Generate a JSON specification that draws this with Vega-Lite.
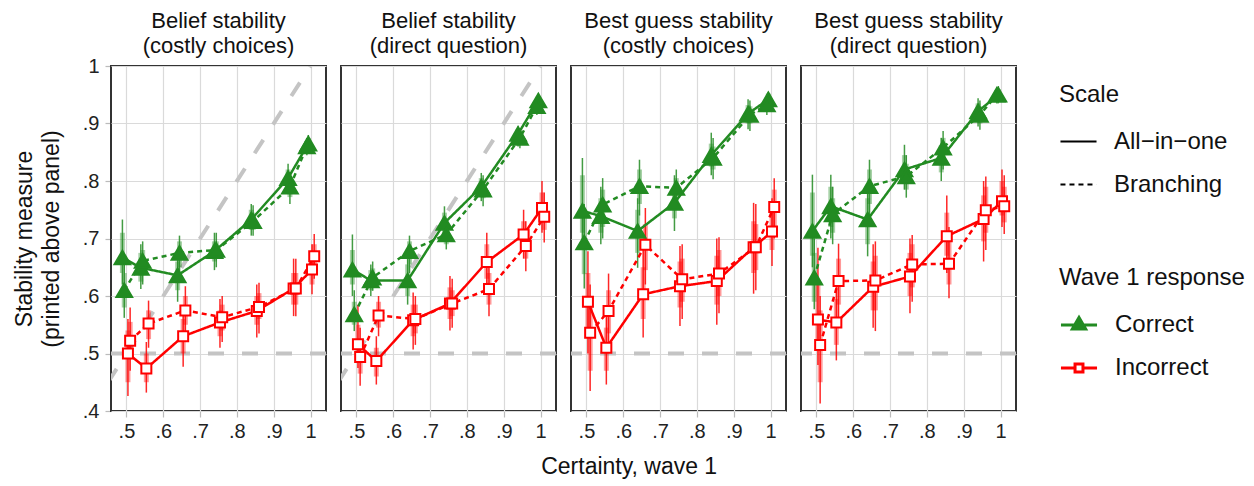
{
  "$schema": "https://vega.github.io/schema/vega-lite/v6.json",
  "padding": {"left": 13, "top": 10, "right": 5, "bottom": 5},
  "background": "white",
  "bounds": "flush",
  "title": {"text": "Certainty, wave 1", "orient": "bottom", "anchor": "middle", "fontSize": 23, "fontWeight": "normal", "color": "#111111", "offset": 15, "font": "Liberation Sans"},
  "data": {"values": [
    {"k":"h","p":"Belief stability|(costly choices)","y":0.5},
    {"k":"h","p":"Belief stability|(direct question)","y":0.5},
    {"k":"h","p":"Best guess stability|(costly choices)","y":0.5},
    {"k":"h","p":"Best guess stability|(direct question)","y":0.5},
    {"k":"d","p":"Belief stability|(costly choices)","c":0.4,"y":0.4},
    {"k":"d","p":"Belief stability|(costly choices)","c":1.0,"y":1.0},
    {"k":"d","p":"Belief stability|(direct question)","c":0.4,"y":0.4},
    {"k":"d","p":"Belief stability|(direct question)","c":1.0,"y":1.0},

    {"p":"Belief stability|(costly choices)","r":"Correct","s":"All−in−one","c":0.489,"y":0.667,"lo":0.62,"hi":0.733,"l2":0.64,"h2":0.71},
    {"p":"Belief stability|(costly choices)","r":"Correct","s":"All−in−one","c":0.539,"y":0.649,"lo":0.612,"hi":0.69,"l2":0.625,"h2":0.675},
    {"p":"Belief stability|(costly choices)","r":"Correct","s":"All−in−one","c":0.639,"y":0.636,"lo":0.59,"hi":0.68,"l2":0.61,"h2":0.66},
    {"p":"Belief stability|(costly choices)","r":"Correct","s":"All−in−one","c":0.739,"y":0.678,"lo":0.645,"hi":0.71,"l2":0.66,"h2":0.695},
    {"p":"Belief stability|(costly choices)","r":"Correct","s":"All−in−one","c":0.839,"y":0.733,"lo":0.705,"hi":0.76,"l2":0.715,"h2":0.75},
    {"p":"Belief stability|(costly choices)","r":"Correct","s":"All−in−one","c":0.939,"y":0.805,"lo":0.78,"hi":0.83,"l2":0.79,"h2":0.82},
    {"p":"Belief stability|(costly choices)","r":"Correct","s":"All−in−one","c":0.994,"y":0.865,"lo":0.85,"hi":0.88,"l2":0.855,"h2":0.875},
    {"p":"Belief stability|(costly choices)","r":"Correct","s":"Branching","c":0.494,"y":0.61,"lo":0.562,"hi":0.66,"l2":0.58,"h2":0.64},
    {"p":"Belief stability|(costly choices)","r":"Correct","s":"Branching","c":0.544,"y":0.661,"lo":0.62,"hi":0.695,"l2":0.64,"h2":0.68},
    {"p":"Belief stability|(costly choices)","r":"Correct","s":"Branching","c":0.644,"y":0.675,"lo":0.635,"hi":0.705,"l2":0.65,"h2":0.695},
    {"p":"Belief stability|(costly choices)","r":"Correct","s":"Branching","c":0.744,"y":0.68,"lo":0.65,"hi":0.71,"l2":0.665,"h2":0.695},
    {"p":"Belief stability|(costly choices)","r":"Correct","s":"Branching","c":0.844,"y":0.73,"lo":0.705,"hi":0.758,"l2":0.715,"h2":0.745},
    {"p":"Belief stability|(costly choices)","r":"Correct","s":"Branching","c":0.944,"y":0.79,"lo":0.76,"hi":0.815,"l2":0.772,"h2":0.805},
    {"p":"Belief stability|(costly choices)","r":"Correct","s":"Branching","c":0.99,"y":0.86,"lo":0.845,"hi":0.875,"l2":0.85,"h2":0.87},
    {"p":"Belief stability|(costly choices)","r":"Incorrect","s":"All−in−one","c":0.504,"y":0.5,"lo":0.426,"hi":0.56,"l2":0.45,"h2":0.54},
    {"p":"Belief stability|(costly choices)","r":"Incorrect","s":"All−in−one","c":0.554,"y":0.474,"lo":0.432,"hi":0.52,"l2":0.45,"h2":0.5},
    {"p":"Belief stability|(costly choices)","r":"Incorrect","s":"All−in−one","c":0.654,"y":0.53,"lo":0.477,"hi":0.575,"l2":0.5,"h2":0.56},
    {"p":"Belief stability|(costly choices)","r":"Incorrect","s":"All−in−one","c":0.754,"y":0.554,"lo":0.51,"hi":0.595,"l2":0.53,"h2":0.575},
    {"p":"Belief stability|(costly choices)","r":"Incorrect","s":"All−in−one","c":0.854,"y":0.574,"lo":0.528,"hi":0.62,"l2":0.55,"h2":0.6},
    {"p":"Belief stability|(costly choices)","r":"Incorrect","s":"All−in−one","c":0.954,"y":0.613,"lo":0.565,"hi":0.665,"l2":0.585,"h2":0.64},
    {"p":"Belief stability|(costly choices)","r":"Incorrect","s":"All−in−one","c":1.004,"y":0.646,"lo":0.603,"hi":0.69,"l2":0.62,"h2":0.67},
    {"p":"Belief stability|(costly choices)","r":"Incorrect","s":"Branching","c":0.51,"y":0.522,"lo":0.47,"hi":0.58,"l2":0.49,"h2":0.555},
    {"p":"Belief stability|(costly choices)","r":"Incorrect","s":"Branching","c":0.56,"y":0.552,"lo":0.51,"hi":0.592,"l2":0.525,"h2":0.575},
    {"p":"Belief stability|(costly choices)","r":"Incorrect","s":"Branching","c":0.66,"y":0.575,"lo":0.53,"hi":0.617,"l2":0.55,"h2":0.6},
    {"p":"Belief stability|(costly choices)","r":"Incorrect","s":"Branching","c":0.76,"y":0.563,"lo":0.52,"hi":0.6,"l2":0.54,"h2":0.585},
    {"p":"Belief stability|(costly choices)","r":"Incorrect","s":"Branching","c":0.86,"y":0.581,"lo":0.535,"hi":0.623,"l2":0.56,"h2":0.605},
    {"p":"Belief stability|(costly choices)","r":"Incorrect","s":"Branching","c":0.96,"y":0.613,"lo":0.565,"hi":0.665,"l2":0.585,"h2":0.64},
    {"p":"Belief stability|(costly choices)","r":"Incorrect","s":"Branching","c":1.01,"y":0.669,"lo":0.63,"hi":0.708,"l2":0.645,"h2":0.69},

    {"p":"Belief stability|(direct question)","r":"Correct","s":"All−in−one","c":0.489,"y":0.646,"lo":0.6,"hi":0.707,"l2":0.62,"h2":0.68},
    {"p":"Belief stability|(direct question)","r":"Correct","s":"All−in−one","c":0.539,"y":0.627,"lo":0.6,"hi":0.655,"l2":0.61,"h2":0.645},
    {"p":"Belief stability|(direct question)","r":"Correct","s":"All−in−one","c":0.639,"y":0.627,"lo":0.585,"hi":0.67,"l2":0.6,"h2":0.655},
    {"p":"Belief stability|(direct question)","r":"Correct","s":"All−in−one","c":0.739,"y":0.727,"lo":0.7,"hi":0.756,"l2":0.71,"h2":0.745},
    {"p":"Belief stability|(direct question)","r":"Correct","s":"All−in−one","c":0.839,"y":0.79,"lo":0.765,"hi":0.814,"l2":0.775,"h2":0.805},
    {"p":"Belief stability|(direct question)","r":"Correct","s":"All−in−one","c":0.939,"y":0.882,"lo":0.86,"hi":0.895,"l2":0.87,"h2":0.89},
    {"p":"Belief stability|(direct question)","r":"Correct","s":"All−in−one","c":0.994,"y":0.94,"lo":0.925,"hi":0.952,"l2":0.93,"h2":0.948},
    {"p":"Belief stability|(direct question)","r":"Correct","s":"Branching","c":0.494,"y":0.568,"lo":0.539,"hi":0.61,"l2":0.55,"h2":0.59},
    {"p":"Belief stability|(direct question)","r":"Correct","s":"Branching","c":0.544,"y":0.632,"lo":0.609,"hi":0.66,"l2":0.618,"h2":0.648},
    {"p":"Belief stability|(direct question)","r":"Correct","s":"Branching","c":0.644,"y":0.678,"lo":0.64,"hi":0.705,"l2":0.655,"h2":0.695},
    {"p":"Belief stability|(direct question)","r":"Correct","s":"Branching","c":0.744,"y":0.707,"lo":0.681,"hi":0.73,"l2":0.69,"h2":0.72},
    {"p":"Belief stability|(direct question)","r":"Correct","s":"Branching","c":0.844,"y":0.785,"lo":0.756,"hi":0.81,"l2":0.77,"h2":0.8},
    {"p":"Belief stability|(direct question)","r":"Correct","s":"Branching","c":0.944,"y":0.875,"lo":0.857,"hi":0.89,"l2":0.865,"h2":0.885},
    {"p":"Belief stability|(direct question)","r":"Correct","s":"Branching","c":0.99,"y":0.93,"lo":0.915,"hi":0.945,"l2":0.92,"h2":0.94},
    {"p":"Belief stability|(direct question)","r":"Incorrect","s":"All−in−one","c":0.504,"y":0.516,"lo":0.475,"hi":0.585,"l2":0.49,"h2":0.55},
    {"p":"Belief stability|(direct question)","r":"Incorrect","s":"All−in−one","c":0.554,"y":0.487,"lo":0.446,"hi":0.53,"l2":0.46,"h2":0.51},
    {"p":"Belief stability|(direct question)","r":"Incorrect","s":"All−in−one","c":0.654,"y":0.558,"lo":0.507,"hi":0.606,"l2":0.53,"h2":0.585},
    {"p":"Belief stability|(direct question)","r":"Incorrect","s":"All−in−one","c":0.754,"y":0.587,"lo":0.54,"hi":0.635,"l2":0.56,"h2":0.615},
    {"p":"Belief stability|(direct question)","r":"Incorrect","s":"All−in−one","c":0.854,"y":0.659,"lo":0.61,"hi":0.71,"l2":0.63,"h2":0.69},
    {"p":"Belief stability|(direct question)","r":"Incorrect","s":"All−in−one","c":0.954,"y":0.707,"lo":0.665,"hi":0.75,"l2":0.685,"h2":0.73},
    {"p":"Belief stability|(direct question)","r":"Incorrect","s":"All−in−one","c":1.004,"y":0.753,"lo":0.71,"hi":0.8,"l2":0.73,"h2":0.78},
    {"p":"Belief stability|(direct question)","r":"Incorrect","s":"Branching","c":0.51,"y":0.494,"lo":0.444,"hi":0.545,"l2":0.465,"h2":0.525},
    {"p":"Belief stability|(direct question)","r":"Incorrect","s":"Branching","c":0.56,"y":0.566,"lo":0.53,"hi":0.6,"l2":0.545,"h2":0.59},
    {"p":"Belief stability|(direct question)","r":"Incorrect","s":"Branching","c":0.66,"y":0.56,"lo":0.515,"hi":0.6,"l2":0.535,"h2":0.585},
    {"p":"Belief stability|(direct question)","r":"Incorrect","s":"Branching","c":0.76,"y":0.587,"lo":0.545,"hi":0.63,"l2":0.565,"h2":0.61},
    {"p":"Belief stability|(direct question)","r":"Incorrect","s":"Branching","c":0.86,"y":0.612,"lo":0.565,"hi":0.66,"l2":0.585,"h2":0.64},
    {"p":"Belief stability|(direct question)","r":"Incorrect","s":"Branching","c":0.96,"y":0.687,"lo":0.643,"hi":0.73,"l2":0.665,"h2":0.71},
    {"p":"Belief stability|(direct question)","r":"Incorrect","s":"Branching","c":1.01,"y":0.738,"lo":0.693,"hi":0.78,"l2":0.715,"h2":0.76},

    {"p":"Best guess stability|(costly choices)","r":"Correct","s":"All−in−one","c":0.489,"y":0.748,"lo":0.69,"hi":0.84,"l2":0.71,"h2":0.81},
    {"p":"Best guess stability|(costly choices)","r":"Correct","s":"All−in−one","c":0.539,"y":0.739,"lo":0.69,"hi":0.79,"l2":0.71,"h2":0.77},
    {"p":"Best guess stability|(costly choices)","r":"Correct","s":"All−in−one","c":0.639,"y":0.713,"lo":0.649,"hi":0.77,"l2":0.675,"h2":0.75},
    {"p":"Best guess stability|(costly choices)","r":"Correct","s":"All−in−one","c":0.739,"y":0.762,"lo":0.713,"hi":0.81,"l2":0.735,"h2":0.79},
    {"p":"Best guess stability|(costly choices)","r":"Correct","s":"All−in−one","c":0.839,"y":0.845,"lo":0.81,"hi":0.884,"l2":0.825,"h2":0.865},
    {"p":"Best guess stability|(costly choices)","r":"Correct","s":"All−in−one","c":0.939,"y":0.917,"lo":0.89,"hi":0.942,"l2":0.9,"h2":0.932},
    {"p":"Best guess stability|(costly choices)","r":"Correct","s":"All−in−one","c":0.994,"y":0.942,"lo":0.925,"hi":0.955,"l2":0.932,"h2":0.952},
    {"p":"Best guess stability|(costly choices)","r":"Correct","s":"Branching","c":0.494,"y":0.693,"lo":0.613,"hi":0.76,"l2":0.638,"h2":0.735},
    {"p":"Best guess stability|(costly choices)","r":"Correct","s":"Branching","c":0.544,"y":0.759,"lo":0.7,"hi":0.805,"l2":0.72,"h2":0.785},
    {"p":"Best guess stability|(costly choices)","r":"Correct","s":"Branching","c":0.644,"y":0.791,"lo":0.74,"hi":0.837,"l2":0.76,"h2":0.82},
    {"p":"Best guess stability|(costly choices)","r":"Correct","s":"Branching","c":0.744,"y":0.788,"lo":0.75,"hi":0.82,"l2":0.765,"h2":0.805},
    {"p":"Best guess stability|(costly choices)","r":"Correct","s":"Branching","c":0.844,"y":0.84,"lo":0.803,"hi":0.875,"l2":0.82,"h2":0.86},
    {"p":"Best guess stability|(costly choices)","r":"Correct","s":"Branching","c":0.944,"y":0.915,"lo":0.887,"hi":0.94,"l2":0.9,"h2":0.93},
    {"p":"Best guess stability|(costly choices)","r":"Correct","s":"Branching","c":0.99,"y":0.933,"lo":0.915,"hi":0.95,"l2":0.922,"h2":0.945},
    {"p":"Best guess stability|(costly choices)","r":"Incorrect","s":"All−in−one","c":0.504,"y":0.59,"lo":0.5,"hi":0.678,"l2":0.53,"h2":0.64},
    {"p":"Best guess stability|(costly choices)","r":"Incorrect","s":"All−in−one","c":0.554,"y":0.51,"lo":0.446,"hi":0.57,"l2":0.47,"h2":0.545},
    {"p":"Best guess stability|(costly choices)","r":"Incorrect","s":"All−in−one","c":0.654,"y":0.603,"lo":0.528,"hi":0.68,"l2":0.56,"h2":0.65},
    {"p":"Best guess stability|(costly choices)","r":"Incorrect","s":"All−in−one","c":0.754,"y":0.617,"lo":0.548,"hi":0.687,"l2":0.58,"h2":0.66},
    {"p":"Best guess stability|(costly choices)","r":"Incorrect","s":"All−in−one","c":0.854,"y":0.626,"lo":0.55,"hi":0.7,"l2":0.585,"h2":0.67},
    {"p":"Best guess stability|(costly choices)","r":"Incorrect","s":"All−in−one","c":0.954,"y":0.685,"lo":0.604,"hi":0.762,"l2":0.64,"h2":0.73},
    {"p":"Best guess stability|(costly choices)","r":"Incorrect","s":"All−in−one","c":1.004,"y":0.712,"lo":0.652,"hi":0.77,"l2":0.68,"h2":0.745},
    {"p":"Best guess stability|(costly choices)","r":"Incorrect","s":"Branching","c":0.51,"y":0.536,"lo":0.435,"hi":0.62,"l2":0.47,"h2":0.6},
    {"p":"Best guess stability|(costly choices)","r":"Incorrect","s":"Branching","c":0.56,"y":0.574,"lo":0.51,"hi":0.639,"l2":0.535,"h2":0.61},
    {"p":"Best guess stability|(costly choices)","r":"Incorrect","s":"Branching","c":0.66,"y":0.689,"lo":0.62,"hi":0.753,"l2":0.645,"h2":0.725},
    {"p":"Best guess stability|(costly choices)","r":"Incorrect","s":"Branching","c":0.76,"y":0.629,"lo":0.56,"hi":0.69,"l2":0.59,"h2":0.665},
    {"p":"Best guess stability|(costly choices)","r":"Incorrect","s":"Branching","c":0.86,"y":0.639,"lo":0.57,"hi":0.702,"l2":0.6,"h2":0.68},
    {"p":"Best guess stability|(costly choices)","r":"Incorrect","s":"Branching","c":0.96,"y":0.685,"lo":0.61,"hi":0.76,"l2":0.645,"h2":0.725},
    {"p":"Best guess stability|(costly choices)","r":"Incorrect","s":"Branching","c":1.01,"y":0.755,"lo":0.7,"hi":0.805,"l2":0.72,"h2":0.785},

    {"p":"Best guess stability|(direct question)","r":"Correct","s":"All−in−one","c":0.489,"y":0.713,"lo":0.65,"hi":0.811,"l2":0.67,"h2":0.78},
    {"p":"Best guess stability|(direct question)","r":"Correct","s":"All−in−one","c":0.539,"y":0.756,"lo":0.7,"hi":0.811,"l2":0.72,"h2":0.79},
    {"p":"Best guess stability|(direct question)","r":"Correct","s":"All−in−one","c":0.639,"y":0.733,"lo":0.669,"hi":0.79,"l2":0.69,"h2":0.77},
    {"p":"Best guess stability|(direct question)","r":"Correct","s":"All−in−one","c":0.739,"y":0.82,"lo":0.785,"hi":0.863,"l2":0.8,"h2":0.845},
    {"p":"Best guess stability|(direct question)","r":"Correct","s":"All−in−one","c":0.839,"y":0.84,"lo":0.8,"hi":0.875,"l2":0.815,"h2":0.862},
    {"p":"Best guess stability|(direct question)","r":"Correct","s":"All−in−one","c":0.939,"y":0.921,"lo":0.895,"hi":0.944,"l2":0.905,"h2":0.935},
    {"p":"Best guess stability|(direct question)","r":"Correct","s":"All−in−one","c":0.994,"y":0.95,"lo":0.935,"hi":0.965,"l2":0.94,"h2":0.96},
    {"p":"Best guess stability|(direct question)","r":"Correct","s":"Branching","c":0.494,"y":0.632,"lo":0.577,"hi":0.7,"l2":0.59,"h2":0.675},
    {"p":"Best guess stability|(direct question)","r":"Correct","s":"Branching","c":0.544,"y":0.742,"lo":0.69,"hi":0.79,"l2":0.71,"h2":0.77},
    {"p":"Best guess stability|(direct question)","r":"Correct","s":"Branching","c":0.644,"y":0.791,"lo":0.74,"hi":0.837,"l2":0.76,"h2":0.82},
    {"p":"Best guess stability|(direct question)","r":"Correct","s":"Branching","c":0.744,"y":0.808,"lo":0.771,"hi":0.845,"l2":0.785,"h2":0.83},
    {"p":"Best guess stability|(direct question)","r":"Correct","s":"Branching","c":0.844,"y":0.858,"lo":0.82,"hi":0.887,"l2":0.835,"h2":0.875},
    {"p":"Best guess stability|(direct question)","r":"Correct","s":"Branching","c":0.944,"y":0.915,"lo":0.889,"hi":0.94,"l2":0.9,"h2":0.93},
    {"p":"Best guess stability|(direct question)","r":"Correct","s":"Branching","c":0.99,"y":0.95,"lo":0.935,"hi":0.962,"l2":0.94,"h2":0.958},
    {"p":"Best guess stability|(direct question)","r":"Incorrect","s":"All−in−one","c":0.504,"y":0.559,"lo":0.48,"hi":0.684,"l2":0.51,"h2":0.62},
    {"p":"Best guess stability|(direct question)","r":"Incorrect","s":"All−in−one","c":0.554,"y":0.554,"lo":0.488,"hi":0.62,"l2":0.515,"h2":0.595},
    {"p":"Best guess stability|(direct question)","r":"Incorrect","s":"All−in−one","c":0.654,"y":0.616,"lo":0.545,"hi":0.69,"l2":0.575,"h2":0.66},
    {"p":"Best guess stability|(direct question)","r":"Incorrect","s":"All−in−one","c":0.754,"y":0.634,"lo":0.57,"hi":0.7,"l2":0.6,"h2":0.675},
    {"p":"Best guess stability|(direct question)","r":"Incorrect","s":"All−in−one","c":0.854,"y":0.704,"lo":0.64,"hi":0.775,"l2":0.67,"h2":0.745},
    {"p":"Best guess stability|(direct question)","r":"Incorrect","s":"All−in−one","c":0.954,"y":0.734,"lo":0.66,"hi":0.8,"l2":0.695,"h2":0.775},
    {"p":"Best guess stability|(direct question)","r":"Incorrect","s":"All−in−one","c":1.004,"y":0.765,"lo":0.72,"hi":0.82,"l2":0.74,"h2":0.8},
    {"p":"Best guess stability|(direct question)","r":"Incorrect","s":"Branching","c":0.51,"y":0.515,"lo":0.413,"hi":0.6,"l2":0.45,"h2":0.575},
    {"p":"Best guess stability|(direct question)","r":"Incorrect","s":"Branching","c":0.56,"y":0.626,"lo":0.56,"hi":0.691,"l2":0.585,"h2":0.665},
    {"p":"Best guess stability|(direct question)","r":"Incorrect","s":"Branching","c":0.66,"y":0.627,"lo":0.539,"hi":0.695,"l2":0.575,"h2":0.67},
    {"p":"Best guess stability|(direct question)","r":"Incorrect","s":"Branching","c":0.76,"y":0.655,"lo":0.59,"hi":0.706,"l2":0.615,"h2":0.69},
    {"p":"Best guess stability|(direct question)","r":"Incorrect","s":"Branching","c":0.86,"y":0.656,"lo":0.596,"hi":0.72,"l2":0.62,"h2":0.695},
    {"p":"Best guess stability|(direct question)","r":"Incorrect","s":"Branching","c":0.96,"y":0.749,"lo":0.68,"hi":0.808,"l2":0.71,"h2":0.79},
    {"p":"Best guess stability|(direct question)","r":"Incorrect","s":"Branching","c":1.01,"y":0.756,"lo":0.708,"hi":0.81,"l2":0.728,"h2":0.79}
  ]},
  "facet": {
    "column": {
      "field": "p", "type": "nominal",
      "sort": ["Belief stability|(costly choices)", "Belief stability|(direct question)", "Best guess stability|(costly choices)", "Best guess stability|(direct question)"],
      "title": null,
      "header": {"labelExpr": "split(datum.value, '|')", "labelFontSize": 22, "labelColor": "#111111", "labelPadding": 8, "labelLineHeight": 25, "labelFont": "Liberation Sans"}
    }
  },
  "spacing": 15,
  "spec": {
    "width": 215,
    "height": 345,
    "layer": [
      {
        "transform": [{"filter": "datum.k == 'h'"}],
        "mark": {"type": "rule", "color": "#c4c4c4", "strokeWidth": 4, "strokeDash": [16, 18]},
        "encoding": {"y": {"field": "y", "type": "quantitative", "scale": {"domain": [0.4, 1.0], "nice": false, "zero": false}}}
      },
      {
        "transform": [{"filter": "datum.k == 'd'"}],
        "mark": {"type": "line", "color": "#c4c4c4", "strokeWidth": 4, "strokeDash": [16, 18], "clip": true},
        "encoding": {
          "x": {"field": "c", "type": "quantitative", "scale": {"domain": [0.458, 1.042], "nice": false, "zero": false}},
          "y": {"field": "y", "type": "quantitative", "scale": {"domain": [0.4, 1.0], "nice": false, "zero": false}}
        }
      },
      {
        "transform": [{"filter": "!datum.k"}],
        "mark": {"type": "rule", "strokeWidth": 5, "opacity": 0.4},
        "encoding": {
          "x": {"field": "c", "type": "quantitative", "scale": {"domain": [0.458, 1.042], "nice": false, "zero": false}},
          "y": {"field": "l2", "type": "quantitative", "scale": {"domain": [0.4, 1.0], "nice": false, "zero": false}},
          "y2": {"field": "h2"},
          "stroke": {"condition": {"test": "datum.r == 'Correct'", "value": "#228B22"}, "value": "#FF0000"}
        }
      },
      {
        "transform": [{"filter": "!datum.k"}],
        "mark": {"type": "rule", "strokeWidth": 1.5, "opacity": 0.85},
        "encoding": {
          "x": {"field": "c", "type": "quantitative", "scale": {"domain": [0.458, 1.042], "nice": false, "zero": false}},
          "y": {"field": "lo", "type": "quantitative", "scale": {"domain": [0.4, 1.0], "nice": false, "zero": false}},
          "y2": {"field": "hi"},
          "stroke": {"condition": {"test": "datum.r == 'Correct'", "value": "#228B22"}, "value": "#FF0000"}
        }
      },
      {
        "transform": [{"filter": "!datum.k"}],
        "mark": {"type": "line", "strokeWidth": 2.5},
        "encoding": {
          "x": {"field": "c", "type": "quantitative", "scale": {"domain": [0.458, 1.042], "nice": false, "zero": false}},
          "y": {"field": "y", "type": "quantitative", "scale": {"domain": [0.4, 1.0], "nice": false, "zero": false}},
          "stroke": {"field": "r", "type": "nominal", "scale": {"domain": ["Correct", "Incorrect"], "range": ["#228B22", "#FF0000"]},
            "legend": {"title": "Wave 1 response", "orient": "none", "legendX": 948, "legendY": 200, "symbolStrokeWidth": 3,
              "encode": {"symbols": {"update": {
                "shape": {"signal": "datum.value == 'Correct' ? 'M-1,0L1,0M-0.37,0.22L0.37,0.22L0,-0.42Z' : 'M-1,0L-0.22,0M0.22,0L1,0M-0.22,-0.22L0.22,-0.22L0.22,0.22L-0.22,0.22Z'"},
                "fill": {"signal": "datum.value == 'Correct' ? '#228B22' : '#ffffff'"}
              }}}}},
          "strokeDash": {"field": "s", "type": "nominal", "scale": {"domain": ["All−in−one", "Branching"], "range": [[1, 0], [5, 4]]},
            "legend": {"title": "Scale", "orient": "none", "legendX": 948, "legendY": 17, "symbolStrokeColor": "black", "symbolStrokeWidth": 2}}
        }
      },
      {
        "transform": [{"filter": "!datum.k"}],
        "mark": {"type": "point", "filled": true, "strokeWidth": 2, "opacity": 1},
        "encoding": {
          "x": {"field": "c", "type": "quantitative", "title": null, "scale": {"domain": [0.458, 1.042], "nice": false, "zero": false},
            "axis": {"values": [0.5, 0.55, 0.6, 0.65, 0.7, 0.75, 0.8, 0.85, 0.9, 0.95, 1.0],
              "labelExpr": "abs(datum.value*10 - round(datum.value*10)) < 0.01 ? (datum.value > 0.999 ? '1' : replace(format(datum.value, '.1f'), '0.', '.')) : ''",
              "tickOpacity": {"condition": {"test": "abs(datum.value*10 - round(datum.value*10)) < 0.01", "value": 1}, "value": 0}}},
          "y": {"field": "y", "type": "quantitative", "title": ["Stability measure", "(printed above panel)"], "scale": {"domain": [0.4, 1.0], "nice": false, "zero": false},
            "axis": {"values": [0.4, 0.45, 0.5, 0.55, 0.6, 0.65, 0.7, 0.75, 0.8, 0.85, 0.9, 0.95, 1.0],
              "labelExpr": "abs(datum.value*10 - round(datum.value*10)) < 0.01 ? (datum.value > 0.999 ? '1' : replace(format(datum.value, '.1f'), '0.', '.')) : ''",
              "tickOpacity": {"condition": {"test": "abs(datum.value*10 - round(datum.value*10)) < 0.01", "value": 1}, "value": 0}}},
          "fill": {"condition": {"test": "datum.r == 'Correct'", "value": "#228B22"}, "value": "#FFFFFF"},
          "stroke": {"condition": {"test": "datum.r == 'Correct'", "value": "#228B22"}, "value": "#FF0000"},
          "shape": {"condition": {"test": "datum.r == 'Correct'", "value": "triangle-up"}, "value": "square"},
          "size": {"condition": {"test": "datum.r == 'Correct'", "value": 250}, "value": 100}
        }
      }
    ]
  },
  "config": {
    "font": "Liberation Sans",
    "view": {"stroke": "#333333", "strokeWidth": 2},
    "axis": {"labelFontSize": 20, "labelColor": "#222222", "titleFontSize": 23, "titleFontWeight": "normal", "titleColor": "#111111",
      "gridColor": "#dadada", "gridWidth": 1.2, "domain": false, "tickColor": "#bbbbbb", "tickSize": 6, "tickWidth": 1.2, "labelPadding": 4},
    "axisY": {"titlePadding": 19, "titleLineHeight": 27, "labelPadding": 6},
    "legend": {"titleFontSize": 24, "labelFontSize": 24, "titleFontWeight": "normal", "titleColor": "#111111", "labelColor": "#111111",
      "symbolSize": 1300, "labelOffset": 16, "rowPadding": 11, "titlePadding": 15, "titleLimit": 400, "labelLimit": 400}
  }
}
